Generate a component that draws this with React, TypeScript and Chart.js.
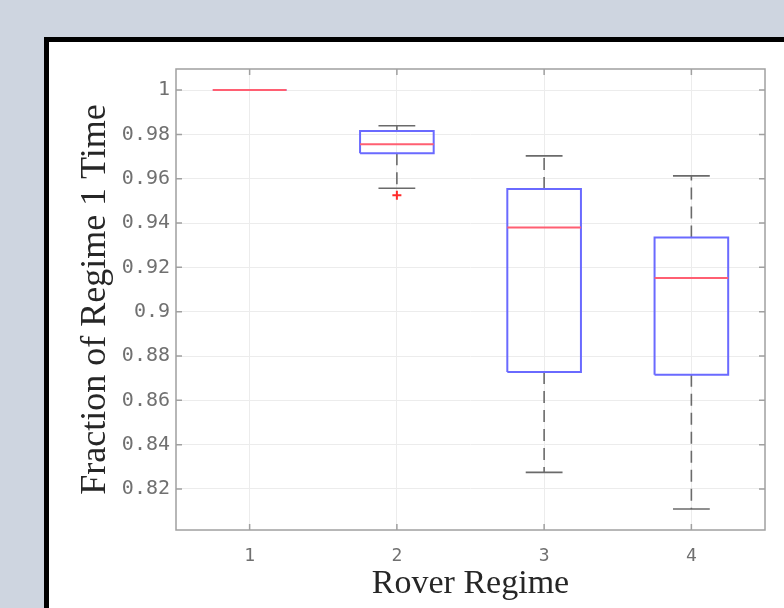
import React, { useEffect, useRef } from "react";
import { Chart, registerables } from "chart.js";

Chart.register(...registerables);

const categories = ["1", "2", "3", "4"];
const whiskerLow = [1, 0.9557, 0.8275, 0.811];
const quartile1 = [1, 0.9715, 0.8728, 0.8716];
const medians = [1, 0.9756, 0.938, 0.9152];
const quartile3 = [1, 0.9815, 0.9554, 0.9335];
const whiskerHigh = [1, 0.9839, 0.9703, 0.9613];
const outliers: number[][] = [[], [0.9525], [], []];

const yTickValues = [0.82, 0.84, 0.86, 0.88, 0.9, 0.92, 0.94, 0.96, 0.98, 1];
const yTickLabels = ["0.82", "0.84", "0.86", "0.88", "0.9", "0.92", "0.94", "0.96", "0.98", "1"];
const xTickValues = [1, 2, 3, 4];

const Y_MIN = 0.8015;
const Y_MAX = 1.0095;
const HALF_BOX = 0.25;

const BOX_COLOR = "#6a6aff";
const MEDIAN_COLOR = "#ff5f72";
const WHISKER_COLOR = "#6a6a6a";
const AXIS_COLOR = "#a0a0a0";

const frameTicksPlugin = {
  id: "frameTicks",
  afterDraw(chart: any) {
    const { ctx, chartArea, scales } = chart;
    const { left, right, top, bottom } = chartArea;
    ctx.save();
    ctx.strokeStyle = AXIS_COLOR;
    ctx.lineWidth = 1.5;
    const tl = 6;
    ctx.beginPath();
    for (const v of yTickValues) {
      const y = scales.y.getPixelForValue(v);
      ctx.moveTo(left, y);
      ctx.lineTo(left + tl, y);
      ctx.moveTo(right, y);
      ctx.lineTo(right - tl, y);
    }
    for (const v of xTickValues) {
      const x = scales.x.getPixelForValue(v);
      ctx.moveTo(x, bottom);
      ctx.lineTo(x, bottom - tl);
      ctx.moveTo(x, top);
      ctx.lineTo(x, top + tl);
    }
    ctx.stroke();
    ctx.strokeRect(left, top, right - left, bottom - top);
    ctx.restore();
  },
};

export default function App() {
  const ref = useRef<HTMLCanvasElement | null>(null);

  useEffect(() => {
    if (!ref.current) return;
    const datasets: any[] = [];
    categories.forEach((_, i) => {
      const x = i + 1;
      datasets.push({
        data: [
          { x: x - HALF_BOX, y: medians[i] },
          { x: x + HALF_BOX, y: medians[i] },
        ],
        borderColor: MEDIAN_COLOR,
        borderWidth: 2,
        order: 0,
      });
      datasets.push({
        data: [
          { x: x - HALF_BOX, y: quartile1[i] },
          { x: x + HALF_BOX, y: quartile1[i] },
          { x: x + HALF_BOX, y: quartile3[i] },
          { x: x - HALF_BOX, y: quartile3[i] },
          { x: x - HALF_BOX, y: quartile1[i] },
        ],
        borderColor: BOX_COLOR,
        borderWidth: 2,
        borderJoinStyle: "miter",
        order: 1,
      });
      datasets.push({
        data: [
          { x: x, y: quartile3[i] },
          { x: x, y: whiskerHigh[i] },
        ],
        borderColor: WHISKER_COLOR,
        borderWidth: 1.6,
        borderDash: [12, 7],
        order: 2,
      });
      datasets.push({
        data: [
          { x: x, y: quartile1[i] },
          { x: x, y: whiskerLow[i] },
        ],
        borderColor: WHISKER_COLOR,
        borderWidth: 1.6,
        borderDash: [12, 7],
        order: 2,
      });
      datasets.push({
        data: [
          { x: x - HALF_BOX / 2, y: whiskerHigh[i] },
          { x: x + HALF_BOX / 2, y: whiskerHigh[i] },
        ],
        borderColor: WHISKER_COLOR,
        borderWidth: 1.6,
        order: 2,
      });
      datasets.push({
        data: [
          { x: x - HALF_BOX / 2, y: whiskerLow[i] },
          { x: x + HALF_BOX / 2, y: whiskerLow[i] },
        ],
        borderColor: WHISKER_COLOR,
        borderWidth: 1.6,
        order: 2,
      });
    });
    const outlierPoints: { x: number; y: number }[] = [];
    outliers.forEach((arr, i) => arr.forEach((v) => outlierPoints.push({ x: i + 1, y: v })));
    datasets.push({
      data: outlierPoints,
      showLine: false,
      pointStyle: "cross",
      pointRadius: 4.5,
      pointBorderWidth: 2,
      pointBorderColor: "#ff2a2a",
      pointBackgroundColor: "#ff2a2a",
      order: 0,
    });
    datasets.forEach((d) => {
      if (d.showLine === undefined) {
        d.showLine = true;
        d.pointRadius = 0;
        d.pointHoverRadius = 0;
      }
      d.fill = false;
      d.tension = 0;
    });

    const chart = new Chart(ref.current, {
      type: "scatter",
      data: { datasets },
      options: {
        animation: false,
        responsive: false,
        events: [],
        layout: { padding: { left: 40, right: 19, top: 69, bottom: 0 } },
        plugins: { legend: { display: false }, tooltip: { enabled: false } },
        scales: {
          x: {
            type: "linear",
            min: 0.5,
            max: 4.5,
            afterBuildTicks: (scale: any) => {
              scale.ticks = xTickValues.map((v) => ({ value: v }));
            },
            afterFit: (scale: any) => {
              scale.height = 78;
            },
            grid: { color: "#ececec", lineWidth: 1, drawTicks: false },
            border: { display: false },
            ticks: {
              padding: 16,
              color: "#707070",
              font: { family: "DejaVu Sans Mono", size: 18 },
              callback: (_v: any, i: number) => categories[i],
              maxRotation: 0,
            },
            title: {
              display: true,
              text: "Rover Regime",
              color: "#262626",
              font: { family: "Liberation Serif", size: 34 },
              padding: { top: 0, bottom: 4 },
            },
          },
          y: {
            type: "linear",
            min: Y_MIN,
            max: Y_MAX,
            afterBuildTicks: (scale: any) => {
              scale.ticks = yTickValues.map((v) => ({ value: v }));
            },
            afterFit: (scale: any) => {
              scale.width = 136;
            },
            grid: { color: "#ececec", lineWidth: 1, drawTicks: false },
            border: { display: false },
            ticks: {
              padding: 6,
              color: "#707070",
              font: { family: "DejaVu Sans Mono", size: 20 },
              callback: (_v: any, i: number) => yTickLabels[i],
            },
            title: {
              display: true,
              text: "Fraction of Regime 1 Time",
              color: "#262626",
              font: { family: "Liberation Serif", size: 36 },
              padding: { top: 34, bottom: 0 },
            },
          },
        },
      },
      plugins: [frameTicksPlugin],
    });
    return () => chart.destroy();
  }, []);

  return (
    <div
      style={{
        position: "fixed",
        left: 0,
        top: 0,
        width: 784,
        height: 608,
        overflow: "hidden",
        background: "#ced5e0",
      }}
    >
      <div
        style={{
          position: "absolute",
          left: 44,
          top: 37,
          width: 800,
          height: 640,
          background: "#ffffff",
          borderLeft: "5px solid #000",
          borderTop: "5px solid #000",
        }}
      />
      <canvas
        ref={ref}
        width={784}
        height={608}
        style={{ position: "absolute", left: 0, top: 0, width: 784, height: 608 }}
      />
    </div>
  );
}
